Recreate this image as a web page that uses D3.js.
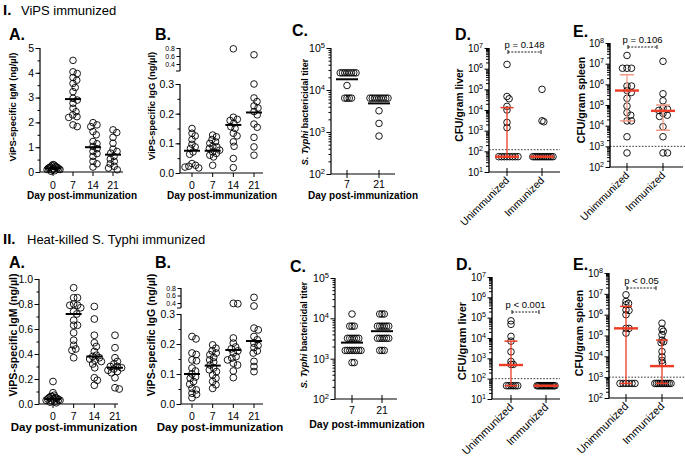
<!DOCTYPE html>
<html><head><meta charset="utf-8">
<script src="https://cdn.jsdelivr.net/npm/d3@7"></script>
<style>body{margin:0;background:#fff}svg{display:block}</style>
</head><body>
<script>
// ---------------- DATA ----------------
const days = ["0", "7", "14", "21"];
const titerDays = ["7", "21"];
const groups = ["Unimmunized", "Immunized"];

// I.A ViPS-specific IgM (ng/µl)
const igmI = [
  [0.05, 0.1, 0.15, 0.2, 0.25, 0.3, 0.08, 0.12, 0.18, 0.22, 0.28, 0.03, 0.13, 0.17, 0.1, 0.2],
  [4.5, 4.04, 3.97, 3.81, 3.7, 3.57, 3.41, 3.24, 2.97, 2.9, 2.77, 2.57, 2.43, 2.3, 2.23, 2.2, 1.9, 1.83],
  [1.99, 1.9, 1.83, 1.63, 1.5, 1.23, 1.14, 1.03, 0.94, 0.83, 0.74, 0.63, 0.43, 0.33, 0.2],
  [1.7, 1.59, 1.4, 1.16, 0.92, 0.83, 0.76, 0.63, 0.52, 0.43, 0.33, 0.23, 0.16, 0.09]
];
const igmIMean = [0.15, 2.94, 1.0, 0.7];

// I.B ViPS-specific IgG (ng/µl)
const iggI = [
  [0.15, 0.134, 0.125, 0.113, 0.097, 0.088, 0.083, 0.071, 0.063, 0.032, 0.026, 0.023, 0.02, 0.017],
  [0.128, 0.122, 0.113, 0.105, 0.1, 0.09, 0.088, 0.083, 0.077, 0.071, 0.066, 0.06, 0.054, 0.026],
  [0.78, 0.188, 0.181, 0.177, 0.168, 0.156, 0.15, 0.134, 0.125, 0.105, 0.09, 0.049, 0.018],
  [0.63, 0.3, 0.253, 0.241, 0.226, 0.219, 0.207, 0.196, 0.165, 0.154, 0.12, 0.088, 0.06]
];
const iggIMean = [0.075, 0.075, 0.162, 0.204];

// I.C S. Typhi bactericidal titer
const titerI = [
  [25600, 25600, 25600, 25600, 25600, 25600, 25600, 25600, 12800, 6400, 6400, 6400, 6400],
  [6400, 6400, 6400, 6400, 6400, 6400, 6400, 6400, 6400, 3200, 1600, 800]
];
const titerIMean = [18000, 4800];

// I.D CFU/gram liver
const liverI = [
  [1.6e6, 4.5e4, 3.5e4, 1.5e4, 1e4, 2.5e3, 1.4e3, 55, 55, 55, 55, 55, 55, 55, 55],
  [1e5, 3e3, 2.7e3, 55, 55, 55, 55, 55, 55, 55, 55, 55, 55, 55, 55]
];
const liverIMedian = [55, 55];
const liverILow = [55, 55];
const liverIHigh = [1.3e4, 55];
const liverILod = 120;

// I.E CFU/gram spleen
const spleenI = [
  [2.5e7, 6e6, 6e6, 6e6, 8.3e5, 8.3e5, 5e5, 4e5, 2.1e5, 8.9e4, 4.3e4, 3.2e4, 1.7e4, 1.7e4, 2.9e3, 480],
  [1.3e7, 3.5e5, 1.6e5, 6.9e4, 6.3e4, 5.5e4, 3.9e4, 3.2e4, 2.8e4, 8.9e3, 2.9e3, 480, 480]
];
const spleenIMedian = [5e5, 5.2e4];
const spleenILow = [1.7e4, 6e3];
const spleenIHigh = [2.9e6, 1e5];
const spleenILod = 1000;

// II.A
const igmII = [
  [0.18, 0.09, 0.07, 0.06, 0.05, 0.045, 0.04, 0.035, 0.03, 0.025, 0.02, 0.015, 0.05, 0.03, 0.04, 0.01, 0.06],
  [0.93, 0.85, 0.85, 0.8, 0.79, 0.79, 0.77, 0.74, 0.72, 0.67, 0.63, 0.63, 0.57, 0.51, 0.47, 0.44, 0.43, 0.37],
  [0.78, 0.68, 0.55, 0.49, 0.46, 0.42, 0.39, 0.38, 0.37, 0.36, 0.35, 0.34, 0.32, 0.29, 0.21, 0.19, 0.15],
  [0.55, 0.45, 0.37, 0.34, 0.32, 0.3, 0.3, 0.29, 0.28, 0.27, 0.26, 0.25, 0.21, 0.13, 0.12]
];
const igmIIMean = [0.04, 0.72, 0.38, 0.29];

// II.B
const iggII = [
  [0.225, 0.217, 0.17, 0.165, 0.147, 0.144, 0.12, 0.11, 0.1, 0.09, 0.086, 0.075, 0.066, 0.052, 0.047, 0.036, 0.032, 0.021],
  [0.197, 0.186, 0.177, 0.17, 0.164, 0.155, 0.147, 0.14, 0.13, 0.12, 0.114, 0.108, 0.097, 0.086, 0.075, 0.064, 0.052],
  [0.39, 0.38, 0.22, 0.203, 0.19, 0.184, 0.177, 0.17, 0.158, 0.153, 0.147, 0.136, 0.13, 0.11, 0.088],
  [0.55, 0.32, 0.253, 0.247, 0.225, 0.214, 0.203, 0.195, 0.188, 0.177, 0.17, 0.142, 0.125, 0.108]
];
const iggIIMean = [0.1, 0.128, 0.18, 0.21];

// II.C
const titerII = [
  [12800, 6400, 6400, 6400, 3200, 3200, 3200, 3200, 3200, 3200, 1600, 1600, 1600, 1600, 1600, 1600, 1600, 1600, 800, 800],
  [12800, 12800, 12800, 6400, 6400, 6400, 6400, 6400, 6400, 3200, 3200, 3200, 3200, 3200, 3200, 1600, 1600, 1600]
];
const titerIIMean = [2500, 4800];

// II.D
const liverII = [
  [7e4, 4.7e4, 1.2e4, 7e3, 2.1e3, 700, 500, 500, 45, 45, 45, 45, 45, 45],
  [45, 45, 45, 45, 45, 45, 45, 45, 45, 45, 45, 45, 45, 45, 45]
];
const liverIIMedian = [470, 45];
const liverIILow = [45, 45];
const liverIIHigh = [7e3, 45];
const liverIILod = 100;

// II.E
const spleenII = [
  [9e6, 4.3e6, 3.5e6, 3e6, 1.7e6, 1.6e6, 1e6, 2.2e5, 2.2e5, 1.3e5, 500, 500, 500, 500, 500, 500],
  [3.9e5, 2e5, 1.6e5, 1.1e5, 6e4, 5e4, 4.5e4, 1.7e4, 9.5e3, 6.3e3, 4.6e3, 500, 500, 500, 500, 500, 500, 500, 500, 500, 500]
];
const spleenIIMedian = [2.2e5, 3.4e3];
const spleenIILow = [500, 500];
const spleenIIHigh = [2.5e6, 6e4];
const spleenIILod = 1000;

const igmTicksI = [0, 1, 2, 3, 4, 5];
const igmTicksII = [0, 0.2, 0.4, 0.6, 0.8, 1.0];
const iggTicksLow = [0, 0.1, 0.2, 0.3];
const iggTicksHigh = [0.4, 0.6, 0.8];

// ---------------- DRAWING ----------------
const F = '"Liberation Sans", Arial, Helvetica, sans-serif';
const RED = "#ee3b24";
const svg = d3.select("body").append("svg").attr("width", 685).attr("height", 462);

function txt(g, x, y, s, o = {}) {
  const t = g.append("text").attr("x", 0).attr("y", 0)
    .attr("transform", `translate(${x},${y})` + (o.rot ? ` rotate(${o.rot})` : ""))
    .attr("font-family", F).attr("font-size", o.size || 10)
    .attr("font-weight", o.weight || "normal")
    .attr("text-anchor", o.anchor || "start").attr("fill", "#000");
  if (Array.isArray(s)) s.forEach(p => t.append("tspan").attr("font-style", p[1] ? "italic" : "normal").text(p[0]));
  else t.text(s);
  return t;
}
function line(g, x1, y1, x2, y2, w = 1, c = "#000", dash = null) {
  const l = g.append("line").attr("x1", x1).attr("y1", y1).attr("x2", x2).attr("y2", y2)
    .attr("stroke", c).attr("stroke-width", w);
  if (dash) l.attr("stroke-dasharray", dash);
  return l;
}
// beeswarm placement; horizontally compressed if wider than maxHalf
function swarm(vals, yf, cx, dmin, maxHalf) {
  const pts = vals.map(v => ({ v, y: yf(v) })).sort((a, b) => a.y - b.y);
  const placed = [];
  for (const p of pts) {
    let off = 0;
    for (let k = 0; k < 600; k++) {
      const o = k === 0 ? 0 : (k % 2 ? 1 : -1) * Math.ceil(k / 2) * 0.25;
      if (placed.every(q => (q.x - o) ** 2 + (q.y - p.y) ** 2 >= dmin * dmin)) { off = o; break; }
    }
    p.off = off; placed.push({ x: off, y: p.y });
  }
  const m = d3.max(pts, p => Math.abs(p.off)) || 1;
  const s = m > maxHalf ? maxHalf / m : 1;
  pts.forEach(p => p.x = cx + p.off * s);
  return pts;
}
function dots(g, pts, r) {
  g.selectAll(null).data(pts).enter().append("circle")
    .attr("cx", d => d.x).attr("cy", d => d.y).attr("r", r)
    .attr("fill", "none").attr("stroke", "#000").attr("stroke-width", 0.9);
}
function yAxis(g, y, ax, major, minor, fmt, fs, majLen = 4.5, minLen = 2.5) {
  const gm = g.append("g").attr("transform", `translate(${ax},0)`)
    .call(d3.axisLeft(y).tickValues(minor).tickSize(minLen).tickFormat("").tickSizeOuter(0));
  gm.select(".domain").remove();
  const gM = g.append("g").attr("transform", `translate(${ax},0)`)
    .call(d3.axisLeft(y).tickValues(major).tickSize(majLen).tickPadding(1.5).tickFormat(fmt).tickSizeOuter(0));
  gM.select(".domain").remove();
  gM.attr("font-family", F).attr("font-size", fs);
  [gm, gM].forEach(a => a.selectAll("line").attr("stroke-width", 1));
  return gM;
}
function supLabels(gM, fs) {
  gM.selectAll(".tick text").each(function (d) {
    const e = Math.round(Math.log10(d));
    const t = d3.select(this).text("10");
    t.append("tspan").attr("dy", -4).attr("font-size", fs * 0.72).text(e);
  });
}
function xAxis(g, x, cats, ax, xEnd, yb, fs, both, labY) {
  line(g, ax, yb, xEnd, yb, 1.2);
  cats.forEach(c => {
    line(g, x(c), both ? yb - 4 : yb, x(c), yb + 4, 1);
    if (labY) txt(g, x(c), labY, c, { size: fs, anchor: "middle" });
  });
}
function meanLines(g, x, cats, y, means, w) {
  cats.forEach((c, i) => line(g, x(c) - w / 2, y(means[i]), x(c) + w / 2, y(means[i]), 2));
}

// linear panel (A)
function linPanel(o) {
  const g = svg.append("g");
  const y = d3.scaleLinear().domain([0, o.max]).range([o.yb, o.yt]);
  const x = d3.scalePoint().domain(days).range(o.xr);
  const minor = d3.range(0, o.max + 1e-9, o.minorStep);
  yAxis(g, y, o.ax, o.ticks, minor, o.fmt, o.fs);
  line(g, o.ax, o.yb, o.ax, o.yt, 1.2);
  xAxis(g, x, days, o.ax, o.xEnd, o.yb, o.fs, false, o.labY);
  o.data.forEach((vals, i) => dots(g, swarm(vals, y, x(days[i]), o.dmin, o.mh), o.r));
  meanLines(g, x, days, y, o.means, o.mw);
}
// broken-axis panel (B)
function brokenPanel(o) {
  const g = svg.append("g");
  const yl = d3.scaleLinear().domain([0, 0.3]).range([o.yb, o.y03]);
  const yu = d3.scaleLinear().domain([0.4, 0.8]).range([o.y04, o.y08]);
  const yf = v => v > 0.3 ? yu(v) : yl(v);
  const x = d3.scalePoint().domain(days).range(o.xr);
  yAxis(g, yl, o.ax, iggTicksLow, d3.range(0, 0.301, 0.05), d3.format(".1f"), o.fs);
  yAxis(g, yu, o.ax, iggTicksHigh, [], d3.format(".1f"), o.fsUp, 3.5);
  line(g, o.ax, o.yb, o.ax, o.y03, 1.2);
  line(g, o.ax, o.yBreak, o.ax, o.y08, 1.2);
  line(g, o.ax - 4, o.yBreak, o.ax, o.yBreak, 1);
  xAxis(g, x, days, o.ax, o.xEnd, o.yb, o.fs, false, o.labY);
  o.data.forEach((vals, i) => dots(g, swarm(vals, yf, x(days[i]), o.dmin, o.mh), o.r));
  meanLines(g, x, days, yf, o.means, o.mw);
}
// log titer panel (C)
function titerPanel(o) {
  const g = svg.append("g");
  const y = d3.scaleLog().domain([100, 1e5]).range([o.yb, o.yt]);
  const x = d3.scalePoint().domain(titerDays).range(o.xr);
  const minor = [];
  [100, 1000, 10000].forEach(b => d3.range(2, 10).forEach(k => minor.push(b * k)));
  const gM = yAxis(g, y, o.ax, [100, 1000, 10000, 100000], minor, d => d, o.fs, 4.5, 2.5);
  supLabels(gM, o.fs);
  line(g, o.ax, o.yb, o.ax, o.yt, 1.2);
  xAxis(g, x, titerDays, o.ax, o.xEnd, o.yb, o.fs, true, o.labY);
  o.data.forEach((vals, i) => dots(g, swarm(vals, y, x(titerDays[i]), o.dmin, o.mh), o.r));
  meanLines(g, x, titerDays, y, o.means, o.mw);
}
// CFU panel (D, E)
function cfuPanel(o) {
  const g = svg.append("g");
  const y = d3.scaleLog().domain(o.dom).range([o.yb, o.yt]);
  const x = d3.scalePoint().domain(groups).range(o.xr);
  const majors = [], minor = [];
  for (let e = Math.log10(o.dom[0]); e <= Math.log10(o.dom[1]); e++) {
    majors.push(Math.pow(10, e));
    if (e < Math.log10(o.dom[1])) d3.range(2, 10).forEach(k => minor.push(k * Math.pow(10, e)));
  }
  const gM = yAxis(g, y, o.ax, majors, minor, d => d, o.fs, 4.5, 3);
  supLabels(gM, o.fs);
  line(g, o.ax, o.yb, o.ax, o.yt, 1.4);
  xAxis(g, x, groups, o.ax, o.xEnd, o.yb, o.fs, true, null);
  groups.forEach(c => txt(g, x(c) + 3, o.yb + 9, c, { size: o.xfs, anchor: "end", rot: -45 }));
  line(g, o.ax, y(o.lod), o.lodEnd, y(o.lod), 0.8, "#000", "1.6,1.6");
  o.data.forEach((vals, i) => dots(g, swarm(vals, y, x(groups[i]), o.dmin, o.mh), o.r));
  groups.forEach((c, i) => {
    const cx = x(c);
    line(g, cx, y(o.low[i]), cx, y(o.high[i]), 1.3, o.barColor);
    line(g, cx - o.cw / 2, y(o.high[i]), cx + o.cw / 2, y(o.high[i]), 1.5, o.barColor);
    line(g, cx - o.cw / 2, y(o.low[i]), cx + o.cw / 2, y(o.low[i]), 1.5, o.barColor);
    line(g, cx - o.mw / 2, y(o.median[i]), cx + o.mw / 2, y(o.median[i]), 2.4, RED);
  });
  // p bracket
  const bx1 = x(groups[0]) + 1, bx2 = x(groups[1]) - o.bInset;
  line(g, bx1, o.pY, bx2, o.pY, 0.9, "#000", "2,1.3");
  line(g, bx1, o.pY - 2, bx1, o.pY + 2, 0.9);
  line(g, bx2, o.pY - 2, bx2, o.pY + 2, 0.9);
  txt(g, (bx1 + bx2) / 2, o.pY - 4, o.p, { size: o.pfs, anchor: "middle" });
}

// ---------------- LAYOUT ----------------
txt(svg, 3, 15, "I.", { size: 15, weight: "bold" });
txt(svg, 21, 15, "ViPS immunized", { size: 13 });
txt(svg, 3, 244, "II.", { size: 15, weight: "bold" });
txt(svg, 27, 244, "Heat-killed S. Typhi immunized", { size: 13 });

[["A.", 9, 40], ["B.", 155, 40], ["C.", 292, 36], ["D.", 455, 40], ["E.", 573, 37],
 ["A.", 9, 268], ["B.", 155, 268], ["C.", 290, 272], ["D.", 456, 270], ["E.", 573, 270]]
  .forEach(d => txt(svg, d[1], d[2], d[0], { size: 16, weight: "bold" }));

// ---- Row I ----
linPanel({ ax: 40, xEnd: 123, yb: 172, yt: 48, max: 5, ticks: igmTicksI, minorStep: 0.5, fmt: d3.format("d"),
  xr: [53, 113], fs: 10.5, labY: 189, data: igmI, means: igmIMean, dmin: 4.5, mh: 7, r: 3.3, mw: 16 });
txt(svg, 16, 107, "ViPS-specific IgM (ng/µl)", { size: 9.4, weight: "bold", anchor: "middle", rot: -90 });
txt(svg, 82, 199, "Day post-immunization", { size: 10, weight: "bold", anchor: "middle" });

brokenPanel({ ax: 180, xEnd: 263, yb: 173, y03: 84, yBreak: 71, y04: 64, y08: 48, xr: [192, 254], fs: 10.5, fsUp: 7, labY: 189,
  data: iggI, means: iggIMean, dmin: 4.5, mh: 7, r: 3.3, mw: 16 });
txt(svg, 155, 106, "ViPS-specific IgG (ng/µl)", { size: 9.4, weight: "bold", anchor: "middle", rot: -90 });
txt(svg, 222, 199, "Day post-immunization", { size: 10, weight: "bold", anchor: "middle" });

titerPanel({ ax: 331, xEnd: 395, yb: 174, yt: 48, xr: [347, 379], fs: 10.5, labY: 188,
  data: titerI, means: titerIMean, dmin: 2.2, mh: 9, r: 3.3, mw: 22 });
txt(svg, 308, 112, [["S. Typhi", true], [" bactericidal titer", false]], { size: 9, weight: "bold", anchor: "middle", rot: -90 });
txt(svg, 363, 199, "Day post-immunization", { size: 10, weight: "bold", anchor: "middle" });

cfuPanel({ ax: 489, xEnd: 560, lodEnd: 560, yb: 172, yt: 48, dom: [10, 1e7], xr: [507, 542], fs: 10, xfs: 10.5,
  data: liverI, median: liverIMedian, low: liverILow, high: liverIHigh, lod: liverILod,
  barColor: RED, dmin: 3.2, mh: 11, r: 3.3, mw: 24, cw: 13, pY: 52, p: "p = 0.148", pfs: 9.5, bInset: 1 });
txt(svg, 463, 105, "CFU/gram liver", { size: 10.3, weight: "bold", anchor: "middle", rot: -90 });

cfuPanel({ ax: 610, xEnd: 683, lodEnd: 685, yb: 167, yt: 43, dom: [100, 1e8], xr: [627, 663], fs: 10, xfs: 10.5,
  data: spleenI, median: spleenIMedian, low: spleenILow, high: spleenIHigh, lod: spleenILod,
  barColor: "#f39b89", dmin: 4.5, mh: 11, r: 3.3, mw: 24, cw: 14, pY: 47, p: "p = 0.106", pfs: 9.5, bInset: 6 });
txt(svg, 585, 100, "CFU/gram spleen", { size: 10.5, weight: "bold", anchor: "middle", rot: -90 });

// ---- Row II ----
linPanel({ ax: 39, xEnd: 118, yb: 404, yt: 279, max: 1.0, ticks: igmTicksII, minorStep: 0.1, fmt: d3.format(".1f"),
  xr: [53, 115], fs: 10.5, labY: 420, data: igmII, means: igmIIMean, dmin: 4.5, mh: 7, r: 3.4, mw: 16 });
txt(svg, 17, 335, "ViPS-specific IgM (ng/µl)", { size: 10.6, weight: "bold", anchor: "middle", rot: -90 });
txt(svg, 74, 431, "Day post-immunization", { size: 11.5, weight: "bold", anchor: "middle" });

brokenPanel({ ax: 181, xEnd: 263, yb: 404, y03: 314, yBreak: 308, y04: 303, y08: 288, xr: [192, 254], fs: 10.5, fsUp: 7, labY: 420,
  data: iggII, means: iggIIMean, dmin: 4.5, mh: 7, r: 3.4, mw: 16 });
txt(svg, 155, 335, "ViPS-specific IgG (ng/µl)", { size: 10.6, weight: "bold", anchor: "middle", rot: -90 });
txt(svg, 220, 431, "Day post-immunization", { size: 11.5, weight: "bold", anchor: "middle" });

titerPanel({ ax: 335, xEnd: 397, yb: 399, yt: 278, xr: [352, 382], fs: 10.5, labY: 414,
  data: titerII, means: titerIIMean, dmin: 2.2, mh: 9, r: 3.3, mw: 22 });
txt(svg, 307, 335, [["S. Typhi", true], [" bactericidal titer", false]], { size: 9, weight: "bold", anchor: "middle", rot: -90 });
txt(svg, 367, 428, "Day post-immunization", { size: 10.5, weight: "bold", anchor: "middle" });

cfuPanel({ ax: 492, xEnd: 560, lodEnd: 560, yb: 399, yt: 277, dom: [10, 1e7], xr: [511, 546], fs: 10, xfs: 11,
  data: liverII, median: liverIIMedian, low: liverIILow, high: liverIIHigh, lod: liverIILod,
  barColor: RED, dmin: 2.2, mh: 9, r: 3.3, mw: 24, cw: 13, pY: 312, p: "p < 0.001", pfs: 9.5, bInset: 7 });
txt(svg, 466, 341, "CFU/gram liver", { size: 11, weight: "bold", anchor: "middle", rot: -90 });

cfuPanel({ ax: 609, xEnd: 683, lodEnd: 685, yb: 398, yt: 273, dom: [100, 1e8], xr: [626, 662], fs: 10, xfs: 11,
  data: spleenII, median: spleenIIMedian, low: spleenIILow, high: spleenIIHigh, lod: spleenIILod,
  barColor: RED, dmin: 3.0, mh: 9, r: 3.3, mw: 24, cw: 12, pY: 288, p: "p < 0.05", pfs: 9.5, bInset: 6 });
txt(svg, 583, 333, "CFU/gram spleen", { size: 10.5, weight: "bold", anchor: "middle", rot: -90 });
</script>
</body></html>
